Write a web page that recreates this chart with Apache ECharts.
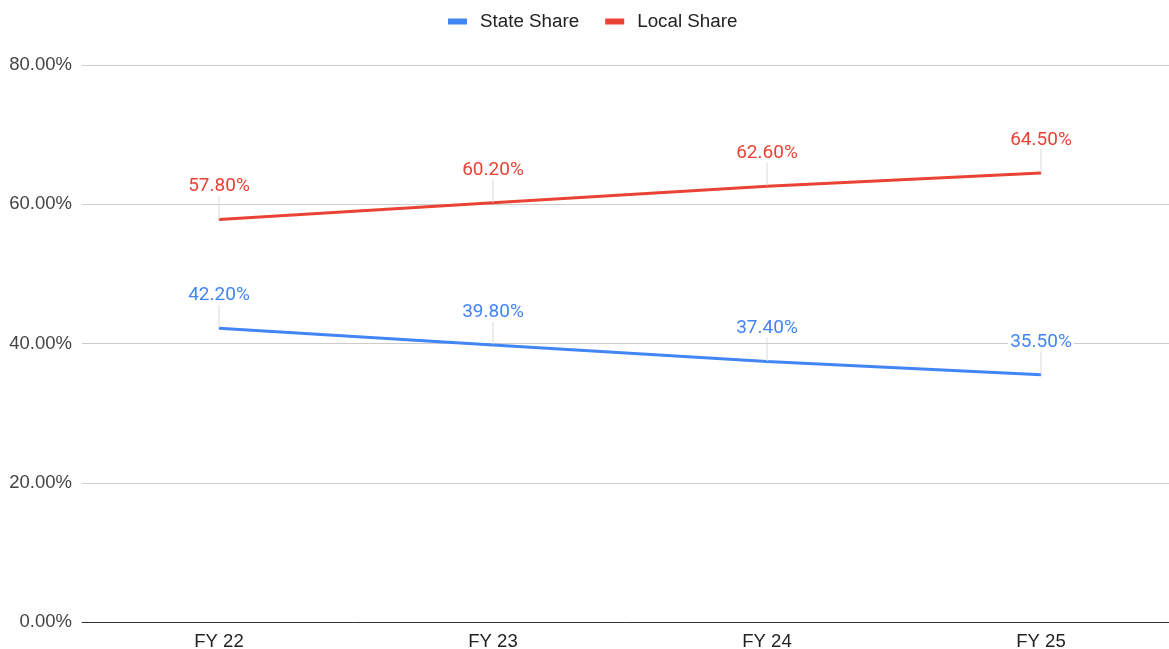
<!DOCTYPE html>
<html><head><meta charset="utf-8">
<script src="https://cdn.jsdelivr.net/npm/echarts@6/dist/echarts.min.js"></script>
<style>html,body{margin:0;padding:0;background:#fff}#c{width:1169px;height:649px}</style>
</head><body><div id="c"></div>
<script>
const categories = ['FY 22', 'FY 23', 'FY 24', 'FY 25'];
const stateShare = [42.2, 39.8, 37.4, 35.5];
const localShare = [57.8, 60.2, 62.6, 64.5];
const seriesNames = ['State Share', 'Local Share'];
const colors = ['#4285F4', '#EA4335'];

const chart = echarts.init(document.getElementById('c'));
function mk(name, data, color) {
  return {
    name: name, type: 'line', data: data, symbol: 'circle', symbolSize: 1, showSymbol: true,
    lineStyle: { width: 3, color: color }, itemStyle: { color: color },
    label: { show: true, position: 'top', distance: 5, color: color, fontSize: 19, fontFamily: 'Roboto',
      backgroundColor: '#fff', padding: [0, 2],
      formatter: p => p.value.toFixed(2) + '%' },
    labelLayout: { dy: -18 },
    labelLine: { show: true, lineStyle: { color: '#d9d9d9', width: 1 } },
    emphasis: { disabled: true }
  };
}
chart.setOption({
  animation: false,
  color: colors,
  legend: { top: 7, left: 443, itemWidth: 19, itemHeight: 6, itemGap: 26, icon: 'rect',
    textStyle: { fontSize: 18.8, color: '#222', fontFamily: 'Liberation Sans', padding: [0, 0, 0, 8] } },
  grid: { left: 82, width: 1096, top: 65, bottom: 27, outerBoundsMode: 'none' },
  xAxis: { type: 'category', data: categories, boundaryGap: true,
    axisLine: { lineStyle: { color: '#333', width: 1 } }, axisTick: { show: false },
    axisLabel: { fontSize: 18.5, color: '#222', fontFamily: 'Liberation Sans', margin: 10 } },
  yAxis: { type: 'value', min: 0, max: 80, interval: 20,
    axisLine: { show: false }, axisTick: { show: false },
    splitLine: { lineStyle: { color: '#cccccc' } },
    axisLabel: { fontSize: 18.5, color: '#444', fontFamily: 'Liberation Sans', margin: 10,
      formatter: v => v.toFixed(2) + '%' } },
  series: [mk(seriesNames[0], stateShare, colors[0]), mk(seriesNames[1], localShare, colors[1])]
});
</script></body></html>
